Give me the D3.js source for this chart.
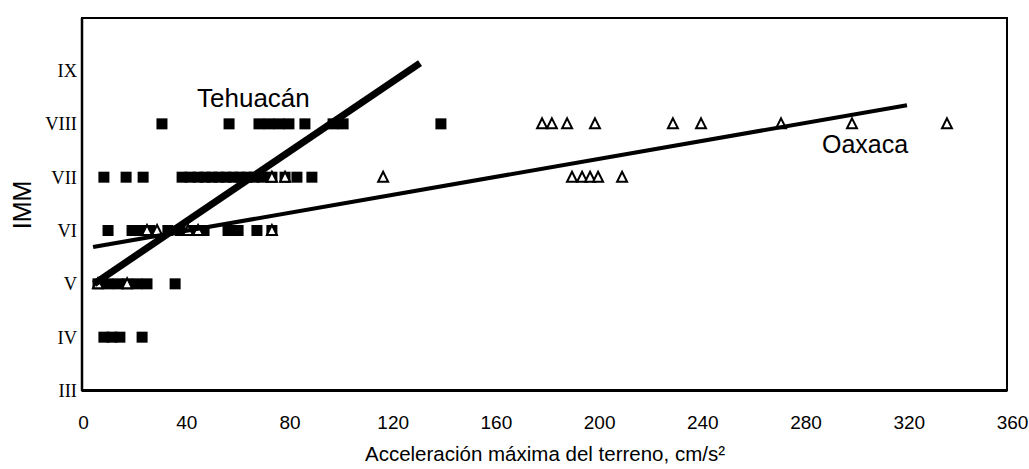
<!DOCTYPE html>
<html>
<head>
<meta charset="utf-8">
<script src="https://cdn.jsdelivr.net/npm/d3@7/dist/d3.min.js"></script>
<style>
  body { margin: 0; background: #fff; }
  svg { display: block; }
  .sans { font-family: "Liberation Sans", Arial, sans-serif; }
  .serif { font-family: "Liberation Serif", "Times New Roman", serif; }
</style>
</head>
<body>
<svg width="1029" height="469" class="chart"></svg>
<script>
// intensity levels (IMM) and x ticks
const levels = [3, 4, 5, 6, 7, 8, 9];
const levelLabels = ["III", "IV", "V", "VI", "VII", "VIII", "IX"];
const xTicks = [0, 40, 80, 120, 160, 200, 240, 280, 320, 360];

// Tehuacán (filled squares): acceleration values per intensity
const tehIV = [8.1, 11.2, 14.3, 22.9];
const tehV = [5.8, 9.7, 13.6, 17.1, 20.9, 24.8, 35.7];
const tehVI = [9.7, 19, 22.1, 26, 32.9, 37.6, 42.6, 46.9, 56.2, 60.1, 67.4, 73.2];
const tehVII = [8.1, 16.7, 23.3, 38.4, 41.5, 44.6, 47.3, 50, 52.7, 55.4, 58.1, 60.8,
  63.6, 66.3, 69.4, 73.2, 78.3, 82.9, 88.7];
const tehVIII = [30.6, 56.6, 68.2, 72.1, 76, 79.8, 86, 96.9, 100.8, 138.7];

// Oaxaca (open triangles)
const oaxV = [5.8, 17.1];
const oaxVI = [24.8, 28.7, 40.7, 44.6, 73.2];
const oaxVII = [73.2, 78.3, 116.3, 189.5, 193.4, 196.5, 199.6, 208.9];
const oaxVIII = [177.9, 181.7, 187.6, 198.4, 228.6, 239.5, 270.5, 298, 334.8];

// regression lines [acc, IMM]
const tehLine = [[4.3, 5.0], [130.6, 9.14]];
const oaxLine = [[3.9, 5.69], [319.3, 8.35]];

const svg = d3.select(".chart");
const x = d3.scaleLinear().domain([0, 360]).range([83, 1012]);
const y = d3.scaleLinear().domain([3, 10]).range([390.5, 17.2]);

function pts(arr, level) { return arr.map(function(v) { return {acc: v, imm: level}; }); }

const squares = [].concat(pts(tehIV, 4), pts(tehV, 5), pts(tehVI, 6), pts(tehVII, 7), pts(tehVIII, 8));
const triangles = [].concat(pts(oaxV, 5), pts(oaxVI, 6), pts(oaxVII, 7), pts(oaxVIII, 8));

// frame
svg.append("rect")
  .attr("x", 82).attr("y", 18)
  .attr("width", 1007 - 82).attr("height", y(3) - 18)
  .attr("fill", "none").attr("stroke", "#000").attr("stroke-width", 2);
svg.append("line")
  .attr("x1", 82).attr("x2", 1007).attr("y1", y(3)).attr("y2", y(3))
  .attr("stroke", "#000").attr("stroke-width", 3);
svg.append("line")
  .attr("x1", 82).attr("x2", 82).attr("y1", 18).attr("y2", y(3))
  .attr("stroke", "#000").attr("stroke-width", 2.5);

// y axis (roman numerals)
const yAxis = svg.append("g")
  .attr("transform", "translate(78,0)")
  .call(d3.axisLeft(y).tickValues(levels).tickSize(0).tickPadding(1)
    .tickFormat(function(d, i) { return levelLabels[i]; }));
yAxis.select(".domain").remove();
yAxis.selectAll("text")
  .attr("class", "serif")
  .attr("font-size", 18.5)
  .attr("fill", "#000");

// x axis
const xAxis = svg.append("g")
  .attr("transform", "translate(0," + y(3) + ")")
  .call(d3.axisBottom(x).tickValues(xTicks).tickSize(0).tickPadding(25));
xAxis.select(".domain").remove();
xAxis.selectAll("text")
  .attr("class", "sans")
  .attr("font-size", 19)
  .attr("fill", "#000");

// axis titles
svg.append("text")
  .attr("class", "sans")
  .attr("x", 545).attr("y", 461)
  .attr("text-anchor", "middle")
  .attr("font-size", 20.5)
  .text("Acceleración máxima del terreno, cm/s²");

svg.append("text")
  .attr("class", "sans")
  .attr("transform", "translate(31,205) rotate(-90)")
  .attr("text-anchor", "middle")
  .attr("font-size", 25)
  .text("IMM");

// Tehuacán squares
svg.selectAll(".sq")
  .data(squares)
  .enter().append("rect")
  .attr("class", "sq")
  .attr("x", function(d) { return x(d.acc) - 5.5; })
  .attr("y", function(d) { return y(d.imm) - 5.5; })
  .attr("width", 11)
  .attr("height", 11)
  .attr("fill", "#000");

// Oaxaca triangles
svg.selectAll(".tri")
  .data(triangles)
  .enter().append("path")
  .attr("class", "tri")
  .attr("d", "M0,-5.5L5,4.5L-5,4.5Z")
  .attr("transform", function(d) { return "translate(" + x(d.acc) + "," + y(d.imm) + ")"; })
  .attr("fill", "#fff")
  .attr("stroke", "#000")
  .attr("stroke-width", 2)
  .attr("stroke-linejoin", "miter");

// regression lines
const line = d3.line()
  .x(function(d) { return x(d[0]); })
  .y(function(d) { return y(d[1]); });

svg.append("path")
  .datum(tehLine)
  .attr("d", line)
  .attr("fill", "none")
  .attr("stroke", "#000")
  .attr("stroke-width", 7);

svg.append("path")
  .datum(oaxLine)
  .attr("d", line)
  .attr("fill", "none")
  .attr("stroke", "#000")
  .attr("stroke-width", 4);

// line labels
svg.append("text")
  .attr("class", "sans")
  .attr("x", 197).attr("y", 107)
  .attr("font-size", 26)
  .text("Tehuacán");

svg.append("text")
  .attr("class", "sans")
  .attr("x", 822).attr("y", 153)
  .attr("font-size", 25)
  .text("Oaxaca");
</script>
</body>
</html>
